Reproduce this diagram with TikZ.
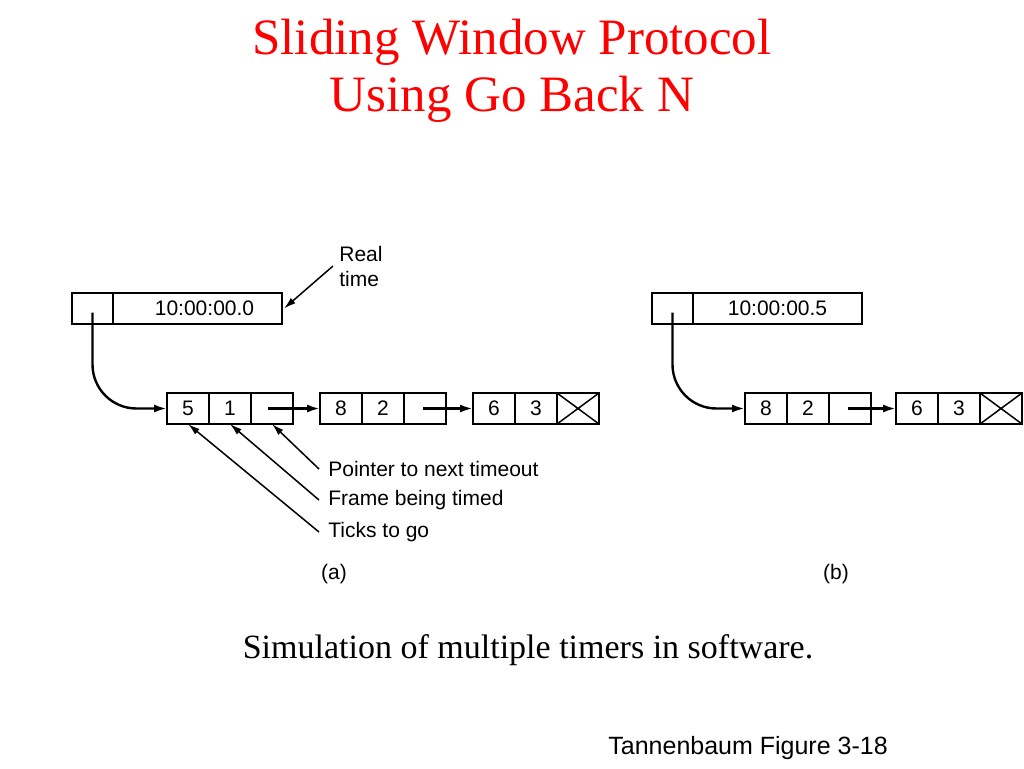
\documentclass[tikz,border=0pt]{standalone}
\usepackage{fontspec}
\setmainfont{Liberation Serif}
\setsansfont{Liberation Sans}
\usetikzlibrary{arrows.meta,positioning}

\begin{document}
\begin{tikzpicture}[
  x=0.5pt, y=-0.5pt,
  node distance=0pt,
  cell/.style={draw, line width=0.75pt, minimum width=21pt, minimum height=15.5pt, inner sep=0pt, outer sep=0pt, font=\sffamily\fontsize{10.5}{12.5}\selectfont},
  clk/.style={cell, minimum width=20.5pt},
  tme/.style={cell, minimum width=84.5pt},
  lbl/.style={font=\sffamily\fontsize{10.5}{12.5}\selectfont, inner sep=0pt},
  ttl/.style={red, font=\fontsize{25.5}{28}\selectfont, anchor=base},
  ptr/.style={-{Latex[length=6.5pt,width=4pt]}, line width=1.2pt},
  callout/.style={-{Latex[length=6pt,width=3.5pt]}, line width=0.75pt}
]
\useasboundingbox[fill=white] (0,0) rectangle (1024,768);

% title
\node[ttl] (ttl1) at (512,54) {Sliding Window Protocol};
\node[ttl] (ttl2) at (512,111) {Using Go Back N};

% (a) timer list at 10:00:00.0
\node[clk] (ca) at (92.5,308.5) {};
\node[tme, right=of ca] (ta) {\hspace{7pt}10:00:00.0};
\node[cell] (a1) at (188,408.5) {5};
\node[cell, right=of a1] (a2) {1};
\node[cell, right=of a2] (a3) {};
\node[cell, right=13.5pt of a3] (a4) {8};
\node[cell, right=of a4] (a5) {2};
\node[cell, right=of a5] (a6) {};
\node[cell, right=13.5pt of a6] (a7) {6};
\node[cell, right=of a7] (a8) {3};
\node[cell, right=of a8] (a9) {};
\draw[line width=0.75pt] (a9.north west) -- (a9.south east) (a9.north east) -- (a9.south west);

\draw[ptr, rounded corners=22pt] ([yshift=-2pt]ca.center) |- (a1.west);
\draw[ptr] ([xshift=-2pt]a3.center) -- (a4.west);
\draw[ptr] ([xshift=-1pt]a6.center) -- (a7.west);

\node[lbl, anchor=west, align=left] (rt) at (339,266) {Real\\time};
\draw[callout] ([xshift=-3pt]rt.west) -- ([xshift=1pt]ta.east);

\node[lbl, anchor=west] (nxt) at (328,469) {Pointer to next timeout};
\node[lbl, anchor=west] (frm) at (328,500) {Frame being timed};
\node[lbl, anchor=west] (tck) at (328,532) {Ticks to go};
\draw[callout] ([xshift=-4.5pt]nxt.west) -- (a3.south);
\draw[callout] ([xshift=-4.5pt]frm.west) -- (a2.south);
\draw[callout] ([xshift=-4.5pt]tck.west) -- (a1.south);

\node[lbl] (capa) at (334,574) {(a)};

% (b) timer list at 10:00:00.5
\node[clk] (cb) at (672.5,308.5) {};
\node[tme, right=of cb] (tb) {10:00:00.5};
\node[cell] (b1) at (766,408.5) {8};
\node[cell, right=of b1] (b2) {2};
\node[cell, right=of b2] (b3) {};
\node[cell, right=12.5pt of b3] (b4) {6};
\node[cell, right=of b4] (b5) {3};
\node[cell, right=of b5] (b6) {};
\draw[line width=0.75pt] (b6.north west) -- (b6.south east) (b6.north east) -- (b6.south west);

\draw[ptr, rounded corners=22pt] ([yshift=-2pt]cb.center) |- (b1.west);
\draw[ptr] ([xshift=-1pt]b3.center) -- (b4.west);

\node[lbl] (capb) at (836,574) {(b)};

% captions
\node[font=\fontsize{17}{20}\selectfont, anchor=base] (sub) at (528,658) {Simulation of multiple timers in software.};
\node[font=\sffamily\fontsize{12.5}{15}\selectfont, anchor=base west, inner sep=0pt] (src) at (608,754) {Tannenbaum Figure 3-18};
\end{tikzpicture}
\end{document}
